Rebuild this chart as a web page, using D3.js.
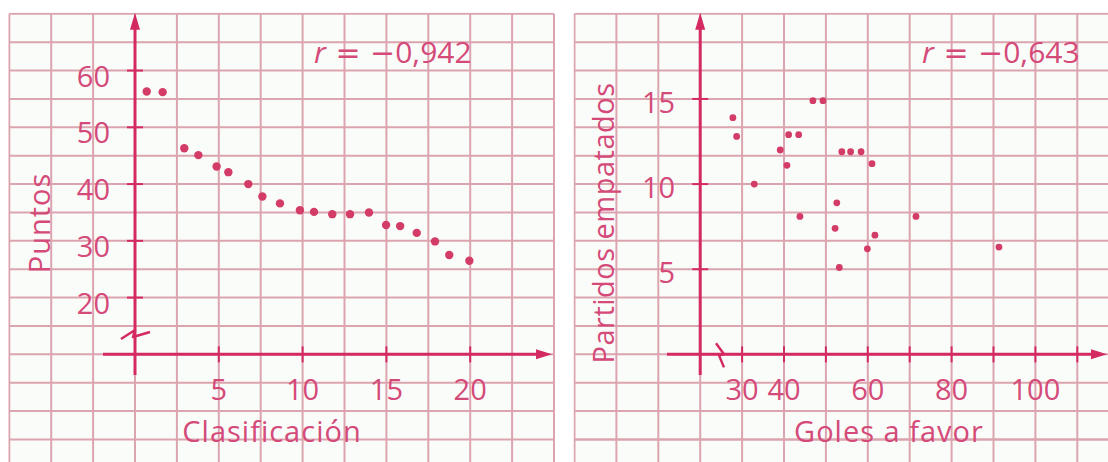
<!DOCTYPE html>
<html>
<head>
<meta charset="utf-8">
<script src="https://cdn.jsdelivr.net/npm/d3@7"></script>
<style>
  html, body { margin: 0; padding: 0; background: #ffffff; }
  svg { display: block; }
  text { font-family: "Open Sans", "Noto Sans", sans-serif; }
</style>
</head>
<body>
<svg id="chart" width="1108" height="462"></svg>
<script>
// Clasificación vs. puntos (20 equipos)
const clasificacion = [0.7, 1.65, 2.94, 3.78, 4.87, 5.57, 6.76, 7.6, 8.65, 9.84,
                       10.68, 11.77, 12.83, 13.96, 14.98, 15.82, 16.81, 17.9, 18.75, 19.95];
const puntos = [56.3, 56.2, 46.3, 45.1, 43.1, 42.1, 40.0, 37.8, 36.6, 35.4,
                35.1, 34.7, 34.7, 35.0, 32.8, 32.6, 31.4, 29.9, 27.5, 26.5];

// Goles a favor vs. partidos empatados
const golesAFavor = [27.8, 28.7, 32.9, 39.1, 40.7, 41.1, 43.5, 43.8, 46.9, 49.3,
                     53.8, 55.9, 58.4, 61.0, 52.6, 52.2, 61.7, 59.9, 53.2, 71.5, 91.3];
const empatados = [13.9, 12.8, 10.0, 12.0, 11.1, 12.9, 12.9, 8.1, 14.9, 14.9,
                   11.9, 11.9, 11.9, 11.2, 8.9, 7.4, 7.0, 6.2, 5.1, 8.1, 6.3];

// Tick values and labels
const leftXTicks = [5, 10, 15, 20];
const leftYTicks = [20, 30, 40, 50, 60];
const rightXTicks = [30, 40, 50, 60, 70, 80, 90, 100, 110];
const rightXLabels = [30, 40, 60, 80, 100];
const rightYTicks = [5, 10, 15];
const correlations = ["0,942", "0,643"];   // shown with a leading minus sign
const titles = { leftX: "Clasificación", leftY: "Puntos", rightX: "Goles a favor", rightY: "Partidos empatados" };

const C = {
  grid: "#dca4af",
  axis: "#d42a62",
  text: "#d44a78",
  dot: "#d43c68",
  paper: "#fafcfa"
};

const svg = d3.select("#chart");

// Scales: one grid cell = 2.5 units (left x), 5 units (left y), 10 units (right x), 5/3 units (right y)
const cellW = 41.9, cellH = 28.38;
const xL = d3.scaleLinear().domain([0, 20]).range([135, 135 + 8 * cellW]);
const yL = d3.scaleLinear().domain([10, 60]).range([13.8 + 12 * cellH, 13.8 + 2 * cellH]);
const xR = d3.scaleLinear().domain([30, 110]).range([700.2 + cellW, 700.2 + 9 * cellW]);
const yR = d3.scaleLinear().domain([0, 15]).range([13.8 + 12 * cellH, 13.8 + 3 * cellH]);

function panel(opts) {
  const g = svg.append("g");
  const { x, y, gx, gy, left, right, top, bottom } = opts;
  const clipId = "clip" + opts.id;
  svg.append("clipPath").attr("id", clipId)
    .append("rect").attr("x", left - 1).attr("y", top - 1)
    .attr("width", right - left + 2).attr("height", bottom - top + 2);

  g.append("rect").attr("x", left).attr("y", top)
    .attr("width", right - left).attr("height", bottom - top).attr("fill", C.paper);

  const grid = g.append("g").attr("clip-path", `url(#${clipId})`)
    .attr("stroke", C.grid).attr("stroke-width", 2);
  grid.selectAll("line.v").data(gx).join("line").attr("class", "v")
    .attr("x1", d => x(d)).attr("x2", d => x(d)).attr("y1", top).attr("y2", bottom);
  grid.selectAll("line.h").data(gy).join("line").attr("class", "h")
    .attr("y1", d => y(d)).attr("y2", d => y(d)).attr("x1", left).attr("x2", right);
  return g;
}

function axes(g, o) {
  const { ax, ay, yTop, yBottom, xLeft, xRight } = o;
  const a = g.append("g").attr("stroke", C.axis).attr("fill", "none");
  a.append("line").attr("x1", ax).attr("x2", ax).attr("y1", yTop + 10).attr("y2", yBottom).attr("stroke-width", 3);
  a.append("line").attr("x1", xLeft).attr("x2", xRight - 10).attr("y1", ay).attr("y2", ay).attr("stroke-width", 3);
  g.append("path").attr("fill", C.axis)
    .attr("d", `M${ax},${yTop} L${ax - 5},${yTop + 17} L${ax + 5},${yTop + 17} Z`);
  g.append("path").attr("fill", C.axis)
    .attr("d", `M${xRight},${ay} L${xRight - 16},${ay - 5} L${xRight - 16},${ay + 5} Z`);
}

function ticks(g, o) {
  const t = g.append("g").attr("stroke", C.axis).attr("stroke-width", 2);
  t.selectAll("line.xt").data(o.xt).join("line").attr("class", "xt")
    .attr("x1", d => o.x(d)).attr("x2", d => o.x(d)).attr("y1", o.ay - 8).attr("y2", o.ay + 8);
  t.selectAll("line.yt").data(o.yt).join("line").attr("class", "yt")
    .attr("y1", d => o.y(d)).attr("y2", d => o.y(d)).attr("x1", o.ax - 8).attr("x2", o.ax + 8);

  const lab = g.append("g").attr("fill", C.text).attr("font-size", 29);
  lab.selectAll("text.xl").data(o.xl).join("text").attr("class", "xl")
    .attr("x", d => o.x(d)).attr("y", o.ay + 46).attr("text-anchor", "middle").text(d => d);
  lab.selectAll("text.yl").data(o.yt).join("text").attr("class", "yl")
    .attr("x", o.ax - 25).attr("y", d => o.y(d) + o.yOff).attr("text-anchor", "end").text(d => d);
}

// "r = −value", one text run; the math symbols use a face with wide glyphs
function corr(g, x0, value) {
  const t = g.append("text").attr("fill", C.text).attr("font-size", 30)
    .attr("x", x0).attr("y", 63);
  t.append("tspan").attr("font-style", "italic").text("r");
  t.append("tspan").attr("font-family", "DejaVu Sans").text("\u00a0=\u00a0\u2212");
  t.append("tspan").text(value);
}

// ---------- Left panel: Puntos vs Clasificación ----------
const gL = panel({
  id: "L", x: xL, y: yL,
  gx: d3.range(-7.5, 25.01, 2.5), gy: d3.range(70, -15, -5),
  left: xL(-7.5), right: xL(25), top: yL(70), bottom: 470
});
axes(gL, { ax: xL(0), ay: yL(10), yTop: yL(70) - 1, yBottom: 375, xLeft: 103, xRight: 552 });
ticks(gL, { x: xL, y: yL, ax: xL(0), ay: yL(10), xt: leftXTicks, xl: leftXTicks, yt: leftYTicks, yOff: 16 });

// axis break on the vertical axis
const bx = xL(0), by = yL(13.4);
gL.append("path").attr("fill", "none").attr("stroke", C.axis).attr("stroke-width", 2.5)
  .attr("stroke-linejoin", "round")
  .attr("d", `M${bx - 14},${by + 4} L${bx},${by - 5} L${bx - 2},${by + 2} L${bx + 15},${by - 3}`);

gL.append("g").attr("fill", C.dot).selectAll("circle")
  .data(clasificacion).join("circle")
  .attr("cx", d => xL(d)).attr("cy", (d, i) => yL(puntos[i])).attr("r", 4.2);

corr(gL, 314, correlations[0]);

gL.append("text").attr("fill", C.text).attr("font-size", 29).attr("letter-spacing", 1)
  .attr("x", 272).attr("y", 442).attr("text-anchor", "middle").text(titles.leftX);
gL.append("text").attr("fill", C.text).attr("font-size", 29).attr("letter-spacing", 1)
  .attr("transform", "translate(50,223) rotate(-90)").attr("text-anchor", "middle").text(titles.leftY);

// ---------- Right panel: Partidos empatados vs Goles a favor ----------
const gR = panel({
  id: "R", x: xR, y: yR,
  gx: d3.range(-10, 121, 10), gy: d3.range(0, 16).map(k => 20 - k * 5 / 3).concat([-5, -20 / 3]),
  left: xR(-10), right: 1120, top: yR(20), bottom: 470
});
axes(gR, { ax: xR(20), ay: yR(0), yTop: yR(20) - 1, yBottom: 375, xLeft: 667, xRight: 1107 });
ticks(gR, { x: xR, y: yR, ax: xR(20), ay: yR(0), xt: rightXTicks, xl: rightXLabels, yt: rightYTicks, yOff: 14 });

// axis break on the horizontal axis
const ry = yR(0);
gR.append("path").attr("fill", "none").attr("stroke", C.axis).attr("stroke-width", 2.5)
  .attr("stroke-linejoin", "round")
  .attr("d", `M716,${ry - 11} L724,${ry} L719,${ry + 1} L724,${ry + 13}`);

gR.append("g").attr("fill", C.dot).selectAll("circle")
  .data(golesAFavor).join("circle")
  .attr("cx", d => xR(d)).attr("cy", (d, i) => yR(empatados[i])).attr("r", 3.4);

corr(gR, 922, correlations[1]);

gR.append("text").attr("fill", C.text).attr("font-size", 29).attr("letter-spacing", 1)
  .attr("x", 889).attr("y", 442).attr("text-anchor", "middle").text(titles.rightX);
gR.append("text").attr("fill", C.text).attr("font-size", 29).attr("letter-spacing", 0.5)
  .attr("transform", "translate(614,223) rotate(-90)").attr("text-anchor", "middle").text(titles.rightY);
</script>
</body>
</html>
